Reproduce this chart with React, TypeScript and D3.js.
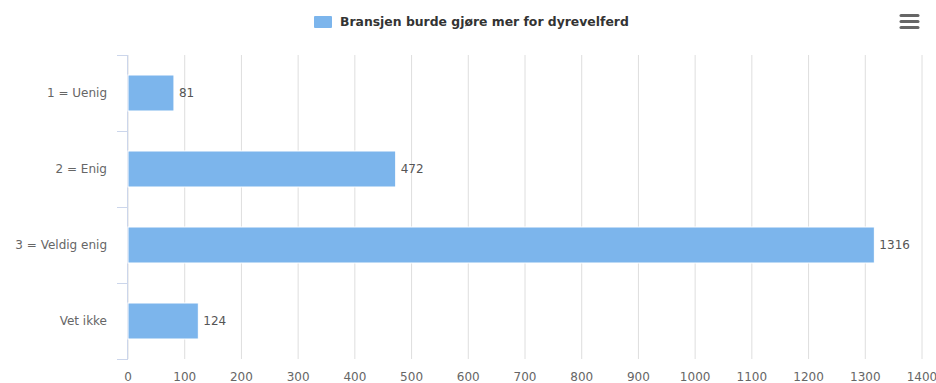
import React from "react";
import * as d3 from "d3";

const categories = ["1 = Uenig", "2 = Enig", "3 = Veldig enig", "Vet ikke"];
const values = [81, 472, 1316, 124];
const xTicks = [0, 100, 200, 300, 400, 500, 600, 700, 800, 900, 1000, 1100, 1200, 1300, 1400];
const seriesName = "Bransjen burde gjøre mer for dyrevelferd";

const W = 936, H = 383;
const left = 128, right = 922, top = 55, bottom = 359;
const font = "'DejaVu Sans', sans-serif";

export default function App() {
  const x = d3.scaleLinear().domain([0, 1400]).range([left, right]);
  const y = d3.scaleBand().domain(categories).range([top, bottom]).paddingInner(0).paddingOuter(0);
  const barH = 36;
  return (
    <svg width={W} height={H} style={{ position: "absolute", left: 0, top: 0, background: "#fff" }}>
      {xTicks.map(t => (
        <line key={t} x1={x(t)} x2={x(t)} y1={top} y2={bottom} stroke="#dedede" strokeWidth={1} />
      ))}
      <line x1={left - 0.5} x2={left - 0.5} y1={top} y2={bottom} stroke="#ccd6eb" strokeWidth={1} />
      {[...categories.map(c => y(c)!), bottom].map((yy, i) => (
        <line key={i} x1={left - 11} x2={left} y1={yy + 0.5} y2={yy + 0.5} stroke="#ccd6eb" strokeWidth={1} />
      ))}
      {categories.map(c => (
        <text key={c} x={107} y={y(c)! + y.bandwidth() / 2} dy="0.35em" textAnchor="end"
          fontFamily={font} fontSize={12} fill="#666">{c}</text>
      ))}
      {xTicks.map(t => (
        <text key={t} x={x(t)} y={381} textAnchor="middle" fontFamily={font} fontSize={12} fill="#666">{t}</text>
      ))}
      {categories.map((c, i) => {
        const cy = y(c)! + y.bandwidth() / 2;
        return (
          <g key={c}>
            <rect x={x(0)} y={cy - barH / 2} width={x(values[i]) - x(0)} height={barH}
              fill="#7cb5ec" stroke="#fff" strokeWidth={1} />
            <text x={x(values[i]) + 5} y={cy} dy="0.35em" fontFamily={font} fontSize={12}
              fill="#555">{values[i]}</text>
          </g>
        );
      })}
      <rect x={314} y={16} width={18} height={12} fill="#7cb5ec" rx={1} />
      <text x={340} y={22} dy="0.35em" fontFamily={font} fontSize={12.4} fontWeight="bold" fill="#333">{seriesName}</text>
      {[0, 1, 2].map(i => (
        <line key={i} x1={901} x2={918} y1={15.5 + i * 6} y2={15.5 + i * 6} stroke="#666" strokeWidth={3} strokeLinecap="round" />
      ))}
    </svg>
  );
}
